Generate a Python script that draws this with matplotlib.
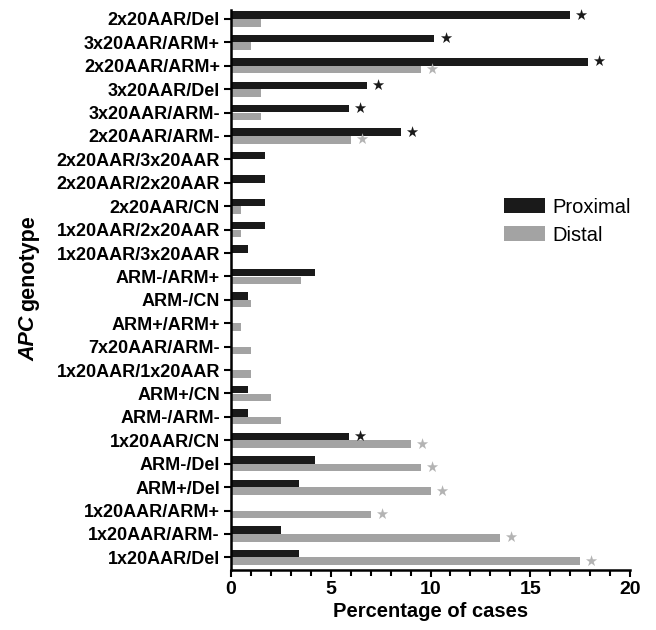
import matplotlib
matplotlib.use("Agg")
import matplotlib.pyplot as plt
import numpy as np

plt.rcParams['font.family'] = ['Liberation Sans', 'DejaVu Sans']

genotypes = ["2x20AAR/Del", "3x20AAR/ARM+", "2x20AAR/ARM+", "3x20AAR/Del", "3x20AAR/ARM-",
             "2x20AAR/ARM-", "2x20AAR/3x20AAR", "2x20AAR/2x20AAR", "2x20AAR/CN",
             "1x20AAR/2x20AAR", "1x20AAR/3x20AAR", "ARM-/ARM+", "ARM-/CN", "ARM+/ARM+",
             "7x20AAR/ARM-", "1x20AAR/1x20AAR", "ARM+/CN", "ARM-/ARM-", "1x20AAR/CN",
             "ARM-/Del", "ARM+/Del", "1x20AAR/ARM+", "1x20AAR/ARM-", "1x20AAR/Del"]
proximal = [17.0, 10.2, 17.9, 6.8, 5.9, 8.5, 1.7, 1.7, 1.7, 1.7, 0.85, 4.2, 0.85, 0.0,
            0.0, 0.0, 0.85, 0.85, 5.9, 4.2, 3.4, 0.0, 2.5, 3.4]
distal = [1.5, 1.0, 9.5, 1.5, 1.5, 6.0, 0.0, 0.0, 0.5, 0.5, 0.0, 3.5, 1.0, 0.5,
          1.0, 1.0, 2.0, 2.5, 9.0, 9.5, 10.0, 7.0, 13.5, 17.5]
proximal_sig = ["2x20AAR/Del", "3x20AAR/ARM+", "2x20AAR/ARM+", "3x20AAR/Del",
                "3x20AAR/ARM-", "2x20AAR/ARM-", "1x20AAR/CN"]
distal_sig = ["2x20AAR/ARM+", "2x20AAR/ARM-", "1x20AAR/CN", "ARM-/Del", "ARM+/Del",
              "1x20AAR/ARM+", "1x20AAR/ARM-", "1x20AAR/Del"]

black = "#1a1a1a"
gray = "#a3a3a3"
gray_star = "#b3b3b3"

W, H = 656, 630
fig = plt.figure(figsize=(W / 100, H / 100), dpi=100)
ax = fig.add_axes([231/W, (H-570)/H, 399/W, 560/H])

y = np.arange(len(genotypes))
off = 0.165
h = 0.32
ax.barh(y - off, proximal, height=h, color=black, label="Proximal")
ax.barh(y + off, distal, height=h, color=gray, label="Distal")

for i, g in enumerate(genotypes):
    if g in proximal_sig:
        ax.annotate("★", (proximal[i], y[i] - off), xytext=(3, 0), textcoords="offset points",
                    ha="left", va="center", fontsize=10.5, color=black, family="DejaVu Sans")
    if g in distal_sig:
        ax.annotate("★", (distal[i], y[i] + off), xytext=(3, 0), textcoords="offset points",
                    ha="left", va="center", fontsize=10.5, color=gray_star, family="DejaVu Sans")

ax.set_xlim(0, 20)
ax.set_ylim(23.54, -0.38)
ax.set_yticks(y)
ax.set_yticklabels(genotypes, fontsize=13, fontweight="bold")
ax.set_xticks([0, 5, 10, 15, 20])
ax.set_xticks(np.arange(0, 21, 1), minor=True)
ax.tick_params(axis="x", labelsize=14, width=1.5, length=5, direction="out", pad=3)
ax.tick_params(axis="x", which="minor", width=1.5, length=4)
ax.tick_params(axis="y", width=1.5, length=5, direction="out", pad=3)
for lab in ax.get_xticklabels():
    lab.set_fontweight("bold")

for s in ["top", "right"]:
    ax.spines[s].set_visible(False)
for s in ["left", "bottom"]:
    ax.spines[s].set_linewidth(1.8)

ax.set_xlabel("Percentage of cases", fontsize=14.5, fontweight="bold", labelpad=3)

# y label: italic bold "APC" followed by bold "genotype"
t1 = fig.text(29/W, (H-361)/H, "APC", rotation=90, ha="center", va="bottom",
              fontsize=15.5, fontweight="bold", fontstyle="italic")
fig.canvas.draw()
bb = t1.get_window_extent()
fig.text(29/W, (bb.y1 + 4.5) / H, "genotype", rotation=90, ha="center", va="bottom",
         fontsize=15.5, fontweight="bold")

ax.legend(loc="upper left", bbox_to_anchor=(0.685, 0.665), frameon=False, fontsize=14.5,
          handlelength=2.0, handleheight=0.75, handletextpad=0.4, labelspacing=0.45,
          borderaxespad=0, borderpad=0)

fig.savefig("out.png", dpi=100)
